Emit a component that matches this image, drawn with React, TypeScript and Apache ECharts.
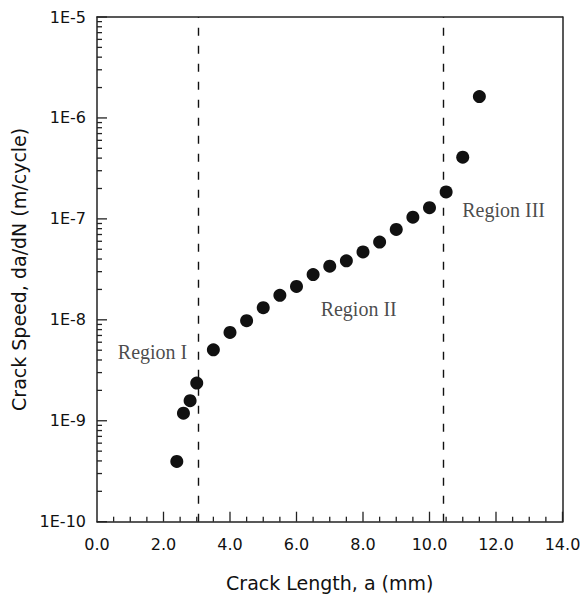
import React, { useEffect, useRef } from "react";
import * as echarts from "echarts";

const crackLength = [2.4, 2.6, 2.8, 3.0, 3.5, 4.0, 4.5, 5.0, 5.5, 6.0, 6.5, 7.0, 7.5, 8.0, 8.5, 9.0, 9.5, 10.0, 10.5, 11.0, 11.5];
const crackSpeed = [3.95e-10, 1.19e-9, 1.58e-9, 2.36e-9, 5.05e-9, 7.5e-9, 9.8e-9, 1.32e-8, 1.75e-8, 2.14e-8, 2.81e-8, 3.4e-8, 3.84e-8, 4.71e-8, 5.9e-8, 7.85e-8, 1.04e-7, 1.29e-7, 1.85e-7, 4.08e-7, 1.63e-6];
const regionBoundaries = [3.05, 10.4];
const regionLabels = ["Region I", "Region II", "Region III"];
const regionX = [1.67, 7.87, 12.23];
const regionY = [4.8e-9, 1.28e-8, 1.23e-7];
const xTitle = "Crack Length, a (mm)";
const yTitle = "Crack Speed, da/dN (m/cycle)";

const X_MIN = 0;
const X_MAX = 14;
const Y_MIN = 1e-10;
const Y_MAX = 1e-5;

// tick positions (axis decoration): [value, length]
const yTicks: number[][] = [];
for (let k = -10; k <= -5; k++) {
  yTicks.push([Math.pow(10, k), 10]);
  if (k < -5) for (let m = 2; m <= 9; m++) yTicks.push([m * Math.pow(10, k), 5]);
}
const xTicks: number[][] = [];
for (let i = 1; i <= 28; i++) {
  const v = i * 0.5;
  xTicks.push([v, i % 4 === 0 ? 10 : 5]);
}

export default function App() {
  const ref = useRef<HTMLDivElement>(null);
  useEffect(() => {
    if (!ref.current) return;
    const chart = echarts.init(ref.current, null, { renderer: "svg" });
    const axisColor = "#222";
    const sans = "DejaVu Sans";
    const plainAxis = {
      axisTick: { show: false },
      axisLabel: { show: false },
      splitLine: { show: false },
      axisLine: { show: true, onZero: false, lineStyle: { color: axisColor, width: 1.5 } },
    };
    chart.setOption({
      animation: false,
      backgroundColor: "#fff",
      grid: { left: 97, right: 21.5, top: 17, bottom: 79.3 },
      xAxis: [
        {
          type: "value",
          position: "bottom",
          min: X_MIN,
          max: X_MAX,
          interval: 2,
          name: xTitle,
          nameLocation: "middle",
          nameGap: 52,
          nameTextStyle: { fontFamily: sans, fontSize: 19, color: "#111" },
          axisLine: { show: true, onZero: false, lineStyle: { color: axisColor, width: 1.5 } },
          axisTick: { show: false },
          splitLine: { show: false },
          axisLabel: {
            margin: 15,
            fontFamily: sans,
            fontSize: 16,
            color: "#111",
            formatter: (v: number) => v.toFixed(1),
          },
        },
        { type: "value", position: "top", min: X_MIN, max: X_MAX, ...plainAxis },
      ],
      yAxis: [
        {
          type: "log",
          logBase: 10,
          position: "left",
          min: Y_MIN,
          max: Y_MAX,
          interval: 1,
          name: yTitle,
          nameLocation: "middle",
          nameGap: 62,
          nameTextStyle: { fontFamily: sans, fontSize: 19, color: "#111" },
          axisLine: { show: true, onZero: false, lineStyle: { color: axisColor, width: 1.5 } },
          axisTick: { show: false },
          splitLine: { show: false },
          axisLabel: {
            margin: 11,
            fontFamily: sans,
            fontSize: 16,
            color: "#111",
            formatter: (v: number) => "1E" + Math.round(Math.log10(v)),
          },
        },
        { type: "log", logBase: 10, position: "right", min: Y_MIN, max: Y_MAX, ...plainAxis },
      ],
      series: [
        {
          type: "custom",
          coordinateSystem: "cartesian2d",
          silent: true,
          clip: false,
          z: 5,
          data: yTicks.map((t) => [X_MIN, t[0], t[1]]),
          encode: { x: 0, y: 1 },
          renderItem: (params: any, api: any) => {
            const p = api.coord([api.value(0), api.value(1)]);
            return {
              type: "rect",
              shape: { x: p[0], y: p[1] - 0.65, width: api.value(2), height: 1.3 },
              style: { fill: axisColor },
            };
          },
        },
        {
          type: "custom",
          coordinateSystem: "cartesian2d",
          silent: true,
          clip: false,
          z: 5,
          data: xTicks.map((t) => [t[0], Y_MIN, t[1]]),
          encode: { x: 0, y: 1 },
          renderItem: (params: any, api: any) => {
            const p = api.coord([api.value(0), api.value(1)]);
            const len = api.value(2);
            return {
              type: "rect",
              shape: { x: p[0] - 0.65, y: p[1] - len, width: 1.3, height: len },
              style: { fill: axisColor },
            };
          },
        },
        {
          type: "scatter",
          symbol: "circle",
          symbolSize: 13,
          itemStyle: { color: "#111", opacity: 1 },
          data: crackLength.map((a, i) => [a, crackSpeed[i]]),
          markLine: {
            silent: true,
            symbol: ["none", "none"],
            label: { show: false },
            lineStyle: { color: "#111", type: [8, 10], width: 1.4 },
            data: regionBoundaries.map((x) => ({ xAxis: x })),
          },
        },
        {
          type: "scatter",
          symbolSize: 0,
          silent: true,
          data: regionLabels.map((t, i) => [regionX[i], regionY[i], t]),
          label: {
            show: true,
            position: "inside",
            formatter: (p: any) => p.value[2],
            fontFamily: "Liberation Serif",
            fontSize: 20,
            color: "#1a1a1a",
          },
        },
      ],
    });
    return () => chart.dispose();
  }, []);
  return (
    <div
      ref={ref}
      style={{ position: "fixed", left: 0, top: 0, width: 584, height: 601, background: "#fff" }}
    />
  );
}
